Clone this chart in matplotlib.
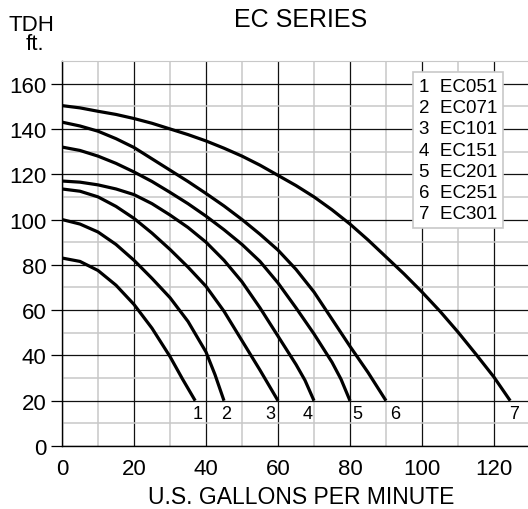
import matplotlib
matplotlib.use("Agg")
import matplotlib.pyplot as plt
from matplotlib.ticker import MultipleLocator

plt.rcParams["font.family"] = ["Liberation Sans", "DejaVu Sans"]

# pump curves: flow (US gpm) -> head (ft)
ec051_q = [0, 5, 10, 15, 20, 25, 30, 33.5, 37]
ec051_h = [83, 81.5, 77.5, 71, 62.5, 52, 39.5, 29.5, 20]
ec071_q = [0, 5, 10, 15, 20, 25, 30, 35, 40, 42.5, 45]
ec071_h = [100, 98, 94.5, 89, 82, 74, 65.5, 55, 41.5, 31.5, 20]
ec101_q = [0, 5, 10, 15, 20, 25, 30, 35, 40, 45, 50, 55, 60]
ec101_h = [113.5, 112.5, 110, 105.8, 100.5, 94, 86.8, 79, 70.5, 59.5, 46.5, 33.5, 20]
ec151_q = [0, 5, 10, 15, 20, 25, 30, 35, 40, 45, 50, 55, 60, 65, 67.5, 70]
ec151_h = [117, 116.5, 115.3, 113.5, 111, 107, 102, 96.5, 90, 82, 72.5, 61, 48.5, 36, 29, 20]
ec201_q = [0, 5, 10, 15, 20, 25, 30, 35, 40, 45, 50, 55, 60, 65, 70, 75, 77.5, 80]
ec201_h = [132, 130.5, 128, 124.8, 121, 116.8, 112, 107, 101.5, 95.5, 89, 81.5,
           72, 61, 49.5, 37, 29.5, 20]
ec251_q = [0, 5, 10, 15, 20, 25, 30, 35, 40, 45, 50, 55, 60, 65, 70, 75, 80, 85, 90]
ec251_h = [143, 141.3, 139, 135.7, 131.8, 126.8, 121.8, 116.8, 111.5, 106, 100,
           93.5, 86.5, 78, 68, 56, 44, 32.5, 20]
ec301_q = [0, 5, 10, 15, 20, 25, 30, 35, 40, 45, 50, 55, 60, 65, 70, 75, 80, 85,
           90, 95, 100, 105, 110, 115, 120, 124.5]
ec301_h = [150.3, 149.3, 147.8, 146.4, 144.6, 142.5, 140, 137.5, 134.7, 131.5, 128,
           124, 119.5, 115, 110, 104.3, 98, 91, 83.5, 76, 68, 59.5, 50.3, 40.5, 30.4, 20]

models = ["EC051", "EC071", "EC101", "EC151", "EC201", "EC251", "EC301"]
curve_tags = ["1", "2", "3", "4", "5", "6", "7"]
tag_q = [37.6, 45.5, 57.8, 68.3, 82.1, 92.6, 125.7]
tag_h = 14.5

curves = [(ec051_q, ec051_h), (ec071_q, ec071_h), (ec101_q, ec101_h),
          (ec151_q, ec151_h), (ec201_q, ec201_h), (ec251_q, ec251_h),
          (ec301_q, ec301_h)]

W, H = 528, 510
fig = plt.figure(figsize=(W / 100, H / 100), dpi=100)
ax = fig.add_axes([62 / W, 63 / H, (530 - 62) / W, (447 - 62) / H])

for q, h in curves:
    ax.plot(q, h, color="black", lw=2.3, solid_joinstyle="round",
            solid_capstyle="butt", zorder=3)

for tag, q in zip(curve_tags, tag_q):
    ax.text(q, tag_h, tag, ha="center", va="center", fontsize=13, zorder=4)

ax.set_xlim(0, 130)
ax.set_ylim(0, 170)
ax.xaxis.set_major_locator(MultipleLocator(20))
ax.xaxis.set_minor_locator(MultipleLocator(10))
ax.yaxis.set_major_locator(MultipleLocator(20))
ax.yaxis.set_minor_locator(MultipleLocator(10))
ax.set_yticks(range(0, 161, 20))

ax.set_axisbelow(True)
ax.grid(which="minor", color="#c8c8c8", lw=1.1)
ax.grid(which="major", color="#111111", lw=0.9)

ax.tick_params(axis="y", which="major", length=8, width=0.9, pad=3, labelsize=16)
ax.tick_params(axis="x", which="major", length=0, pad=9, labelsize=16)
ax.tick_params(which="minor", length=0)

ax.spines["right"].set_visible(False)
ax.spines["top"].set_color("#c8c8c8")
ax.spines["left"].set_linewidth(1.0)
ax.spines["bottom"].set_linewidth(1.0)

# legend box
legend_text = "\n".join(f"{t}  {m}" for t, m in zip(curve_tags, models))
fig.text(419 / W, 1 - 151 / H, legend_text, ha="left", va="center",
         fontsize=13.5, linespacing=1.32,
         bbox=dict(boxstyle="square,pad=0.3", facecolor="white",
                   edgecolor="#c8c8c8", lw=1.2))

fig.text(301 / W, 1 - 27 / H, "EC SERIES", ha="center", va="baseline", fontsize=18)
fig.text(31 / W, 1 - 31 / H, "TDH", ha="center", va="baseline", fontsize=16)
fig.text(35 / W, 1 - 50 / H, "ft.", ha="center", va="baseline", fontsize=16)
fig.text(301 / W, 1 - 504 / H, "U.S. GALLONS PER MINUTE", ha="center", va="baseline",
         fontsize=16.5)

fig.savefig("out.png", dpi=100)
